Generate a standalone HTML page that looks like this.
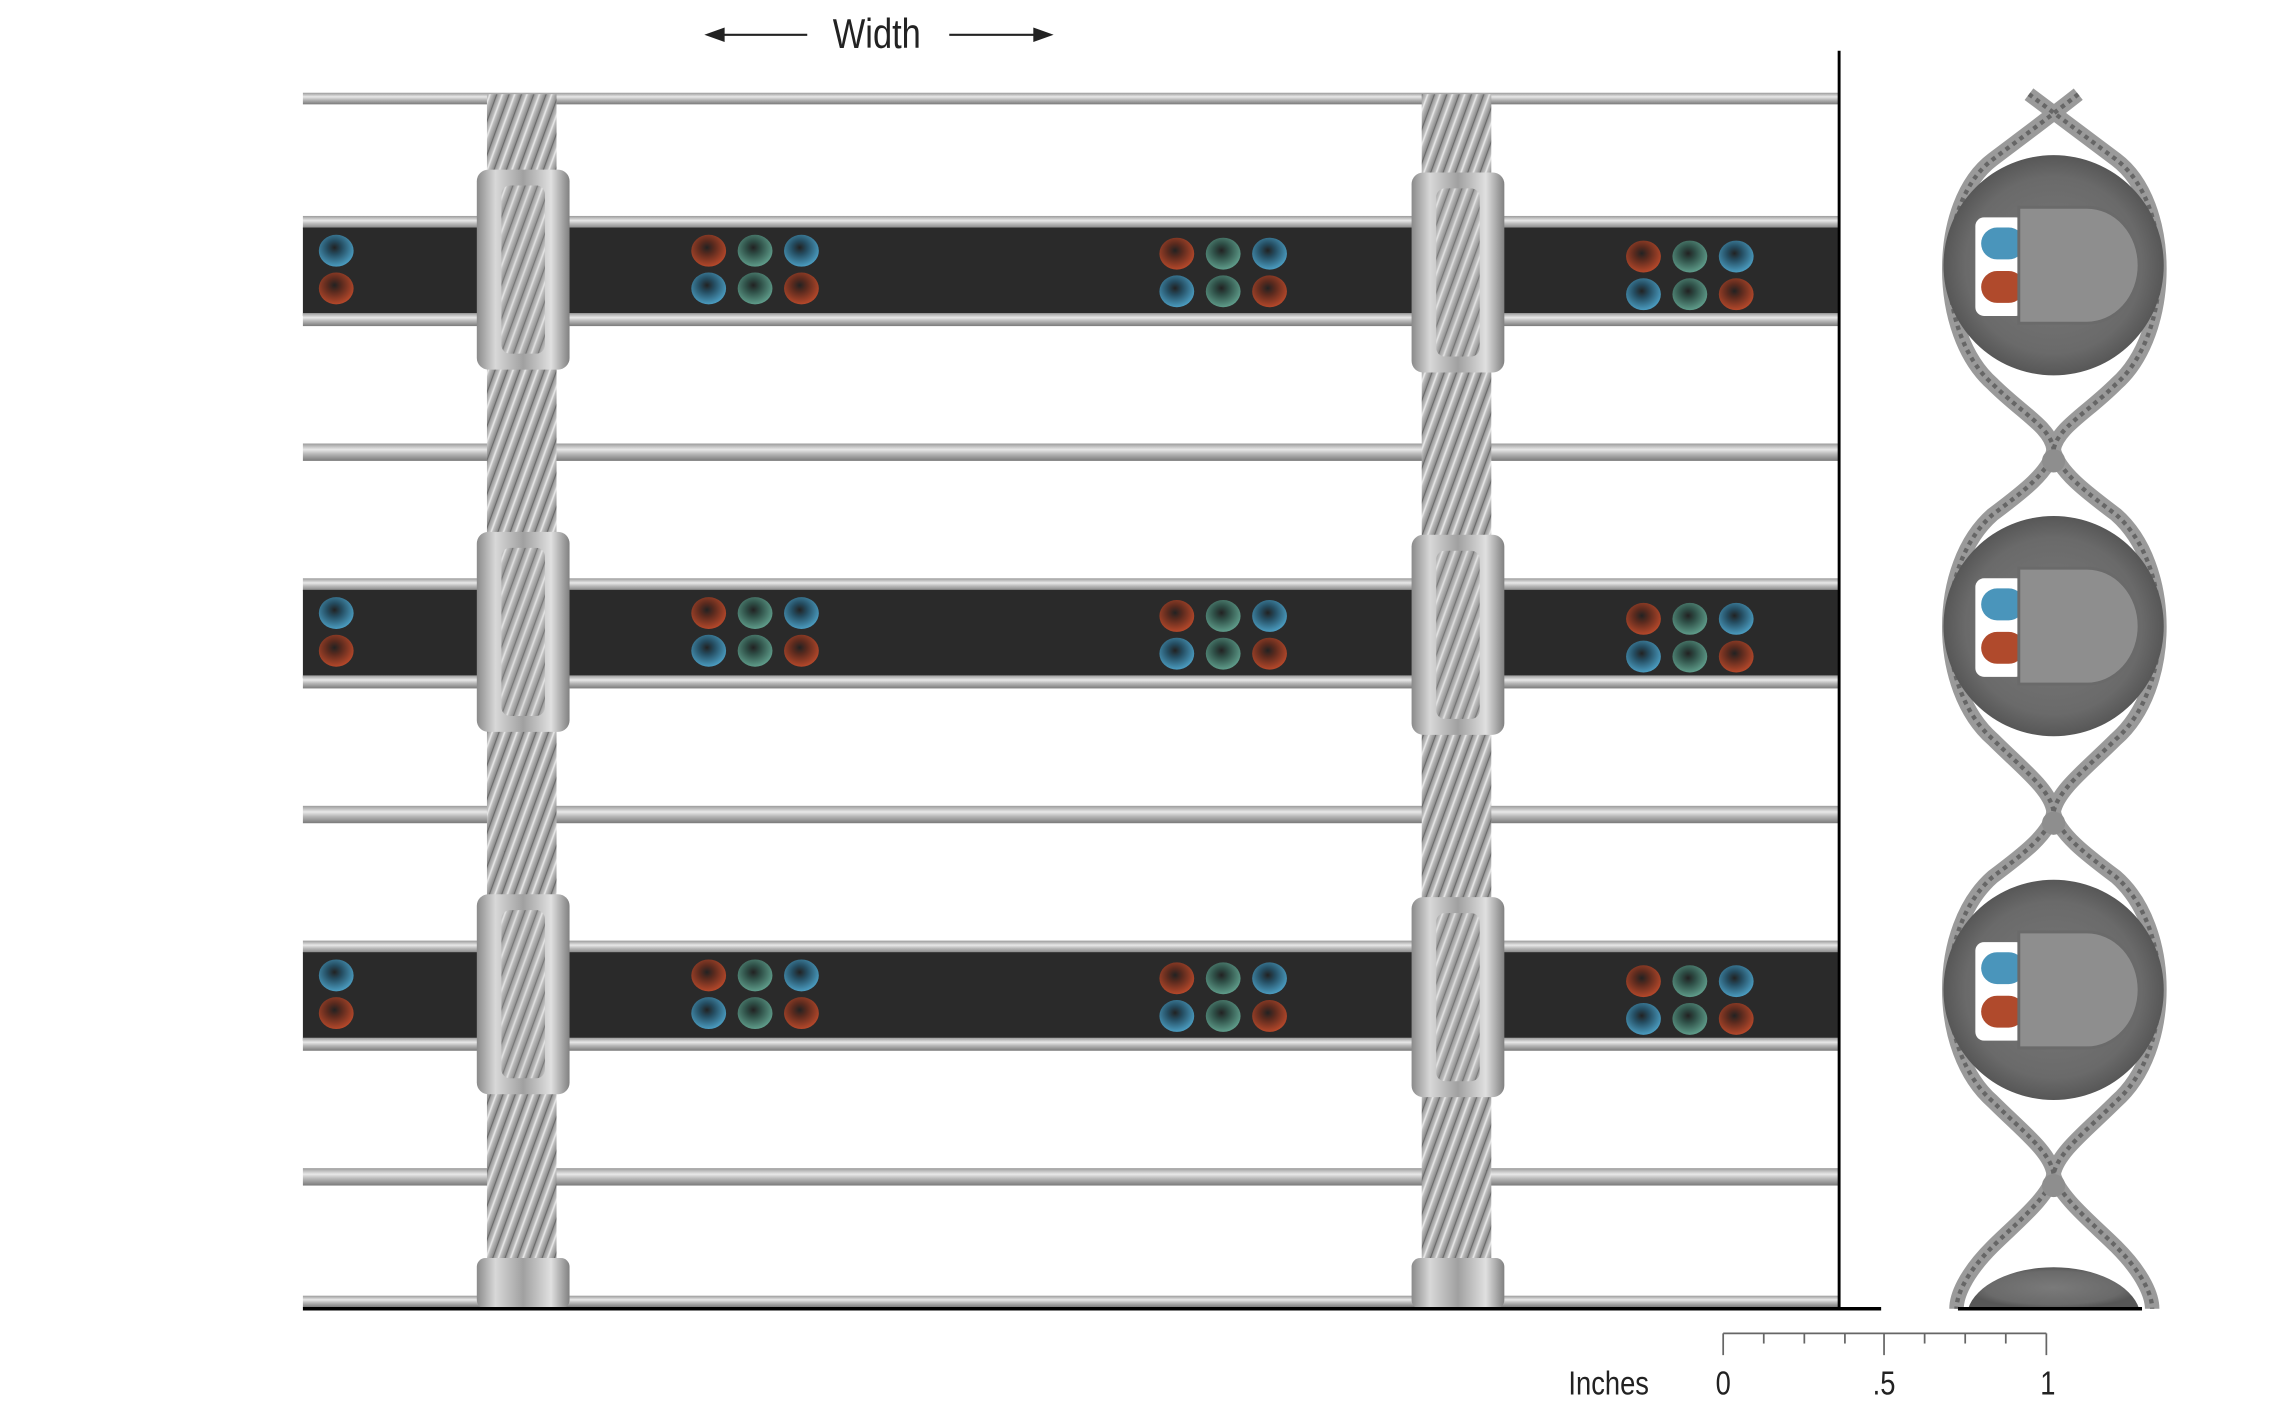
<!DOCTYPE html>
<html><head><meta charset="utf-8"><style>
html,body{margin:0;padding:0;background:#fff;}
svg{display:block;}
</style></head><body>
<svg width="2271" height="1416" viewBox="0 0 1567 977" preserveAspectRatio="none" xmlns="http://www.w3.org/2000/svg">
<defs>
<linearGradient id="rod" x1="0" y1="0" x2="0" y2="1">
<stop offset="0" stop-color="#9a9a9a"/><stop offset="0.35" stop-color="#e8e8e8"/><stop offset="0.6" stop-color="#b8b8b8"/><stop offset="1" stop-color="#7a7a7a"/></linearGradient>
<linearGradient id="wash" x1="0" y1="0" x2="1" y2="0">
<stop offset="0" stop-color="#8a8a8a"/><stop offset="0.2" stop-color="#d8d8d8"/><stop offset="0.5" stop-color="#a0a0a0"/><stop offset="0.8" stop-color="#e0e0e0"/><stop offset="1" stop-color="#808080"/></linearGradient>
<linearGradient id="cab" x1="0" y1="0" x2="1" y2="0">
<stop offset="0" stop-color="#8c8c8c"/><stop offset="0.5" stop-color="#cfcfcf"/><stop offset="1" stop-color="#8c8c8c"/></linearGradient>
<pattern id="twist" width="8" height="8" patternUnits="userSpaceOnUse" patternTransform="rotate(20)">
<rect width="8" height="8" fill="url(#cab)"/><line x1="0" y1="0" x2="0" y2="8" stroke="#6a6a6a" stroke-width="1.5"/><line x1="4" y1="0" x2="4" y2="8" stroke="#e6e6e6" stroke-width="1"/></pattern>
<radialGradient id="disc" cx="0.5" cy="0.5" r="0.5">
<stop offset="0" stop-color="#7a7a7a"/><stop offset="0.8" stop-color="#6a6a6a"/><stop offset="1" stop-color="#575757"/></radialGradient>
<radialGradient id="red" cx="0.45" cy="0.4" r="0.6"><stop offset="0" stop-color="#222"/><stop offset="0.35" stop-color="#5a2a1e"/><stop offset="1" stop-color="#b5482a"/></radialGradient>
<radialGradient id="grn" cx="0.45" cy="0.4" r="0.6"><stop offset="0" stop-color="#222"/><stop offset="0.35" stop-color="#2e4e46"/><stop offset="1" stop-color="#5f9c8a"/></radialGradient>
<radialGradient id="blu" cx="0.45" cy="0.4" r="0.6"><stop offset="0" stop-color="#222"/><stop offset="0.35" stop-color="#244c60"/><stop offset="1" stop-color="#4b9cc0"/></radialGradient>
<g id="grp">
<ellipse cx="0" cy="0" rx="12" ry="11" fill="url(#red)"/><ellipse cx="32" cy="0" rx="12" ry="11" fill="url(#grn)"/><ellipse cx="64" cy="0" rx="12" ry="11" fill="url(#blu)"/>
<ellipse cx="0" cy="26" rx="12" ry="11" fill="url(#blu)"/><ellipse cx="32" cy="26" rx="12" ry="11" fill="url(#grn)"/><ellipse cx="64" cy="26" rx="12" ry="11" fill="url(#red)"/>
</g>
<g id="band">
<rect x="209" y="149" width="1060" height="9" fill="url(#rod)"/>
<rect x="209" y="157" width="1060" height="61" fill="#2a2a2a"/>
<rect x="209" y="216" width="1060" height="9" fill="url(#rod)"/>
<use href="#grp" x="489" y="173"/><use href="#grp" x="812" y="175"/><use href="#grp" x="1134" y="177"/>
<ellipse cx="232" cy="173" rx="12" ry="11" fill="url(#blu)"/><ellipse cx="232" cy="199" rx="12" ry="11" fill="url(#red)"/>
</g>
<g id="washers">
<rect x="329" y="117" width="64" height="138" rx="8" fill="url(#wash)"/>
<rect x="346" y="128" width="30" height="116" rx="6" fill="url(#twist)" opacity="0.85"/>
<rect x="974" y="119" width="64" height="138" rx="8" fill="url(#wash)"/>
<rect x="991" y="130" width="30" height="116" rx="6" fill="url(#twist)" opacity="0.85"/>
</g>
<g id="node">
<circle cx="1417" cy="0" r="76" fill="url(#disc)"/>
<rect x="1363" y="-33" width="34" height="68" rx="6" fill="#fff"/>
<rect x="1367" y="-26" width="30" height="22" rx="11" fill="#4a95bb"/>
<rect x="1367" y="4" width="30" height="22" rx="11" fill="#b04a2c"/>
<path d="M1393 -40 H1440 A36 40 0 0 1 1440 40 H1393 Z" fill="#8e8e8e" stroke="#6a6a6a" stroke-width="2"/>
</g>
</defs>

<rect x="209" y="64" width="1060" height="8" fill="url(#rod)"/>
<rect x="209" y="306" width="1060" height="12" fill="url(#rod)"/>
<rect x="209" y="556" width="1060" height="12" fill="url(#rod)"/>
<rect x="209" y="806" width="1060" height="12" fill="url(#rod)"/>
<rect x="209" y="894" width="1060" height="8" fill="url(#rod)"/>

<rect x="336" y="65" width="48" height="838" fill="url(#twist)"/>
<rect x="981" y="65" width="48" height="838" fill="url(#twist)"/>

<use href="#band"/>
<use href="#band" y="250"/>
<use href="#band" y="500"/>
<use href="#washers"/>
<use href="#washers" y="250"/>
<use href="#washers" y="500"/>
<rect x="329" y="868" width="64" height="35" rx="6" fill="url(#wash)"/>
<rect x="974" y="868" width="64" height="35" rx="6" fill="url(#wash)"/>

<line x1="1269" y1="35" x2="1269" y2="903" stroke="#000" stroke-width="2"/>
<line x1="209" y1="903" x2="1298" y2="903" stroke="#000" stroke-width="2.5"/>

<line x1="495" y1="24" x2="557" y2="24" stroke="#222" stroke-width="1.5"/>
<polygon points="486,24 500,19 500,29" fill="#222"/>
<line x1="655" y1="24" x2="717" y2="24" stroke="#222" stroke-width="1.5"/>
<polygon points="727,24 713,19 713,29" fill="#222"/>
<text x="0" y="33" transform="translate(605 0) scale(0.82 1)" text-anchor="middle" font-family="Liberation Sans, sans-serif" font-size="29" fill="#222">Width</text>

<g fill="none" stroke-width="10" stroke="#9a9a9a">
<path id="s1" d="M1400 65 C1420 80 1440 95 1460 110 C1500 140 1500 230 1460 265 C1440 285 1420 295 1417 310 C1415 325 1395 340 1375 355 C1335 390 1335 475 1375 510 C1395 530 1415 545 1417 560 C1420 575 1440 590 1460 605 C1500 640 1500 725 1460 760 C1440 780 1420 795 1417 810 C1415 825 1390 845 1375 860 C1355 880 1350 895 1350 903"/>
<path id="s2" d="M1434 65 C1415 80 1395 95 1375 110 C1335 140 1335 230 1375 265 C1395 285 1415 295 1417 310 C1420 325 1440 340 1460 355 C1500 390 1500 475 1460 510 C1440 530 1420 545 1417 560 C1415 575 1395 590 1375 605 C1335 640 1335 725 1375 760 C1395 780 1415 795 1417 810 C1420 825 1445 845 1460 860 C1480 880 1485 895 1485 903"/>
</g>
<g fill="none" stroke-width="3" stroke="#666" stroke-dasharray="3 3">
<use href="#s1"/><use href="#s2"/>
</g>
<use href="#node" y="183"/>
<use href="#node" y="432"/>
<use href="#node" y="683"/>
<circle cx="1417" cy="318" r="8" fill="#8e8e8e"/>
<circle cx="1417" cy="568" r="8" fill="#8e8e8e"/>
<circle cx="1417" cy="818" r="8" fill="#8e8e8e"/>
<path d="M1358 903 A60 35 0 0 1 1476 903 Z" fill="url(#disc)"/>
<line x1="1351" y1="903" x2="1478" y2="903" stroke="#000" stroke-width="2.5"/>

<g stroke="#666" stroke-width="1.2">
<line x1="1189" y1="920" x2="1412" y2="920"/>
<line x1="1189" y1="920" x2="1189" y2="935"/>
<line x1="1217" y1="920" x2="1217" y2="927"/>
<line x1="1245" y1="920" x2="1245" y2="927"/>
<line x1="1273" y1="920" x2="1273" y2="927"/>
<line x1="1300" y1="920" x2="1300" y2="935"/>
<line x1="1328" y1="920" x2="1328" y2="927"/>
<line x1="1356" y1="920" x2="1356" y2="927"/>
<line x1="1384" y1="920" x2="1384" y2="927"/>
<line x1="1412" y1="920" x2="1412" y2="935"/>
</g>
<g font-family="Liberation Sans, sans-serif" font-size="23" fill="#222">
<text x="0" y="962" transform="translate(1110 0) scale(0.82 1)" text-anchor="middle">Inches</text>
<text x="0" y="962" transform="translate(1189 0) scale(0.82 1)" text-anchor="middle">0</text>
<text x="0" y="962" transform="translate(1300 0) scale(0.82 1)" text-anchor="middle">.5</text>
<text x="0" y="962" transform="translate(1413 0) scale(0.82 1)" text-anchor="middle">1</text>
</g>
</svg>
</body></html>
